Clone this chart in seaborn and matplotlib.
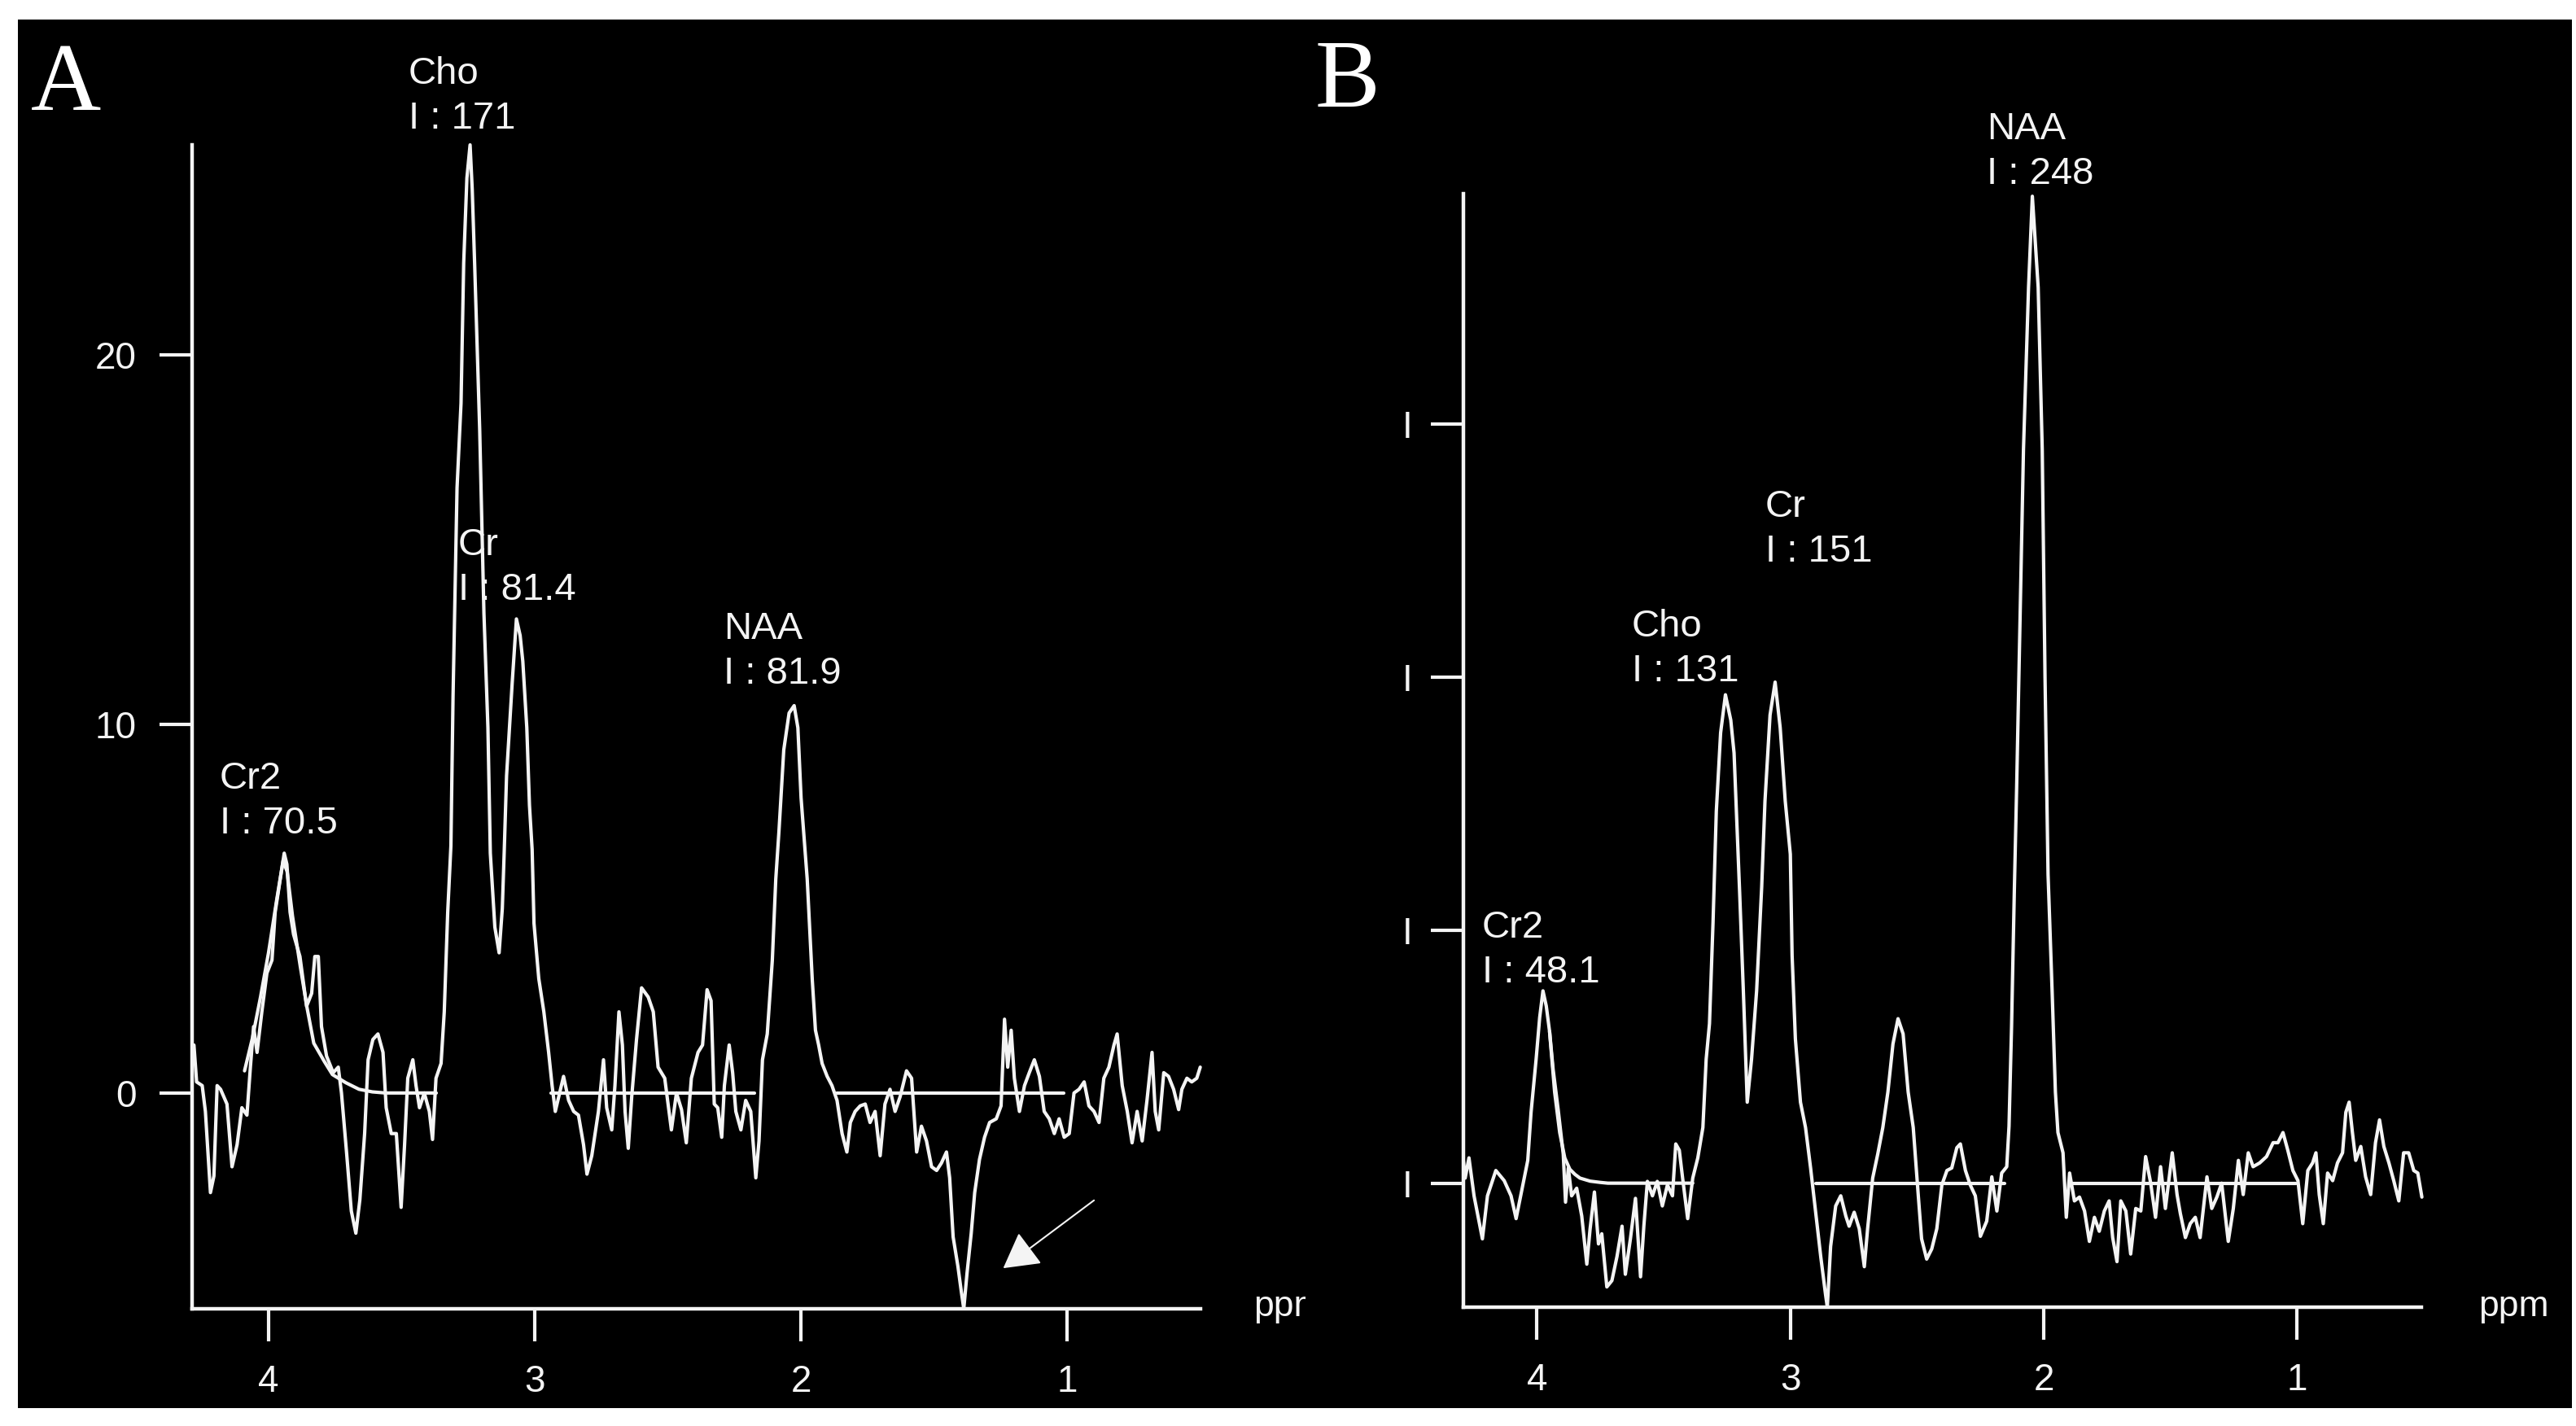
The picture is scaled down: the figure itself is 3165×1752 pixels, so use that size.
import matplotlib
matplotlib.use("Agg")  # no display
import matplotlib.pyplot as plt
import seaborn as sns
import pandas as pd
from matplotlib.patches import Rectangle
from matplotlib.transforms import Bbox, TransformedBbox

W, H = 3165, 1752
LINE = "#F4F4F4"

# ---- panel A: spectrum (ppm, signal) ----
A_PPM = [4.28, 4.27, 4.249, 4.237, 4.218, 4.205, 4.193, 4.180, 4.156, 4.137, 4.118, 4.100,
         4.081, 4.068, 4.056, 4.043, 4.025, 4.006, 3.987, 3.975, 3.956, 3.941, 3.931, 3.919,
         3.906, 3.882, 3.857, 3.838, 3.826, 3.813, 3.801, 3.782, 3.757, 3.738, 3.726, 3.707,
         3.689, 3.672, 3.657, 3.639, 3.626, 3.608, 3.589, 3.570, 3.558, 3.539, 3.520, 3.502,
         3.489, 3.477, 3.458, 3.446, 3.433, 3.415, 3.396, 3.384, 3.371, 3.352, 3.340, 3.327,
         3.315, 3.307, 3.292, 3.277, 3.267, 3.255, 3.243, 3.235, 3.226, 3.207, 3.191, 3.176,
         3.167, 3.150, 3.134, 3.122, 3.115, 3.106, 3.085, 3.069, 3.055, 3.045, 3.030, 3.020,
         3.010, 3.003, 2.985, 2.966, 2.948, 2.935, 2.923, 2.910, 2.892, 2.873, 2.854, 2.836,
         2.817, 2.804, 2.786, 2.761, 2.742, 2.730, 2.711, 2.699, 2.684, 2.671, 2.661, 2.649,
         2.636, 2.618, 2.599, 2.574, 2.555, 2.537, 2.512, 2.487, 2.468, 2.449, 2.431, 2.412,
         2.387, 2.370, 2.353, 2.338, 2.326, 2.313, 2.298, 2.288, 2.270, 2.257, 2.245, 2.226,
         2.208, 2.189, 2.170, 2.158, 2.145, 2.127, 2.108, 2.095, 2.083, 2.065, 2.045, 2.026,
         2.012, 2.000, 1.977, 1.958, 1.946, 1.934, 1.921, 1.902, 1.884, 1.865, 1.846, 1.828,
         1.815, 1.797, 1.778, 1.759, 1.741, 1.722, 1.703, 1.685, 1.666, 1.647, 1.628, 1.604,
         1.585, 1.566, 1.548, 1.529, 1.510, 1.491, 1.473, 1.454, 1.442, 1.429, 1.411, 1.398,
         1.389, 1.377, 1.361, 1.348, 1.330, 1.311, 1.292, 1.267, 1.249, 1.236, 1.224, 1.211,
         1.199, 1.180, 1.161, 1.143, 1.124, 1.105, 1.087, 1.068, 1.049, 1.031, 1.012, 0.993,
         0.975, 0.956, 0.937, 0.919, 0.900, 0.881, 0.863, 0.844, 0.825, 0.813, 0.794, 0.775,
         0.757, 0.738, 0.719, 0.701, 0.682, 0.670, 0.657, 0.638, 0.620, 0.601, 0.582, 0.570,
         0.551, 0.533, 0.514, 0.501]
A_SIG = [1.3, 0.3, 0.2, -0.5, -2.7, -2.25, 0.2, 0.1, -0.3, -2.0, -1.4, -0.4,
         -0.6, 0.7, 1.8, 1.1, 2.2, 3.25, 3.6, 4.9, 5.8, 6.5, 6.2, 4.9,
         4.3, 3.7, 2.35, 2.7, 3.7, 3.7, 1.8, 1.0, 0.55, 0.7, 0.0, -1.6,
         -3.2, -3.8, -2.9, -1.1, 0.9, 1.45, 1.6, 1.1, -0.4, -1.1, -1.1, -3.1,
         -1.4, 0.4, 0.9, 0.2, -0.4, 0.0, -0.5, -1.26, 0.4, 0.8, 2.2, 4.9,
         6.7, 10.75, 16.4, 18.7, 22.5, 24.8, 25.7, 24.5, 22.5, 18.0, 13.0, 9.9,
         6.5, 4.5, 3.8, 5.0, 6.5, 8.6, 11.1, 12.85, 12.4, 11.7, 9.9, 7.8,
         6.6, 4.6, 3.1, 2.2, 1.1, 0.2, -0.5, -0.1, 0.45, -0.2, -0.5, -0.6,
         -1.4, -2.2, -1.7, -0.5, 0.9, -0.4, -1.0, 0.2, 2.2, 1.3, -0.5, -1.5,
         -0.1, 1.45, 2.85, 2.6, 2.2, 0.7, 0.4, -1.0, 0.0, -0.45, -1.35, 0.4,
         1.1, 1.3, 2.8, 2.5, -0.3, -0.4, -1.2, 0.2, 1.3, 0.55, -0.5, -1.0,
         -0.2, -0.5, -2.3, -1.3, 0.9, 1.6, 3.6, 5.8, 7.1, 9.3, 10.3, 10.5,
         9.9, 8.0, 5.8, 3.07, 1.7, 1.3, 0.8, 0.45, 0.2, -0.2, -1.1, -1.6,
         -0.8, -0.5, -0.35, -0.3, -0.8, -0.5, -1.7, -0.3, 0.1, -0.5, -0.1, 0.6,
         0.4, -1.6, -0.9, -1.3, -2.0, -2.1, -1.9, -1.6, -2.3, -3.9, -4.7, -5.4,
         -5.85, -4.9, -3.8, -2.7, -1.8, -1.2, -0.8, -0.7, -0.35, 2.0, 0.7, 1.7,
         0.4, -0.5, 0.2, 0.55, 0.9, 0.45, -0.5, -0.7, -1.1, -0.7, -1.2, -1.1,
         0.0, 0.1, 0.3, -0.35, -0.5, -0.8, 0.4, 0.7, 1.3, 1.6, 0.2, -0.5,
         -1.35, -0.5, -1.3, -0.2, 1.1, -0.5, -1.0, 0.55, 0.45, 0.1, -0.45, 0.1,
         0.4, 0.3, 0.4, 0.7]

# fitted baseline / model of panel A, three pieces
A_FIT_SEG = [1] * 18 + [2, 2] + [3, 3]
A_FIT_PPM = [4.09, 4.06, 4.03, 4.00, 3.97, 3.945, 3.93, 3.91, 3.88, 3.855, 3.83, 3.79,
             3.76, 3.71, 3.66, 3.61, 3.56, 3.37,
             2.94, 2.175,
             1.865, 1.012]
A_FIT_SIG = [0.6, 1.5, 2.6, 3.8, 5.2, 6.3, 6.0, 4.8, 3.4, 2.3, 1.35, 0.85,
             0.5, 0.28, 0.1, 0.03, 0.0, 0.0,
             0.0, 0.0,
             0.0, 0.0]

# ---- panel B ----
B_PPM = [4.29, 4.283, 4.268, 4.248, 4.215, 4.195, 4.162, 4.129, 4.102, 4.082, 4.056, 4.036,
         4.023, 4.003, 3.989, 3.976, 3.963, 3.950, 3.936, 3.916, 3.896, 3.887, 3.876, 3.863,
         3.843, 3.823, 3.803, 3.790, 3.773, 3.757, 3.744, 3.724, 3.704, 3.684, 3.664, 3.651,
         3.631, 3.611, 3.591, 3.578, 3.564, 3.544, 3.525, 3.505, 3.485, 3.465, 3.452, 3.438,
         3.425, 3.405, 3.385, 3.365, 3.345, 3.332, 3.319, 3.305, 3.292, 3.275, 3.256, 3.235,
         3.222, 3.200, 3.185, 3.170, 3.153, 3.133, 3.113, 3.100, 3.080, 3.060, 3.040, 3.020,
         3.000, 2.993, 2.980, 2.960, 2.940, 2.920, 2.900, 2.880, 2.861, 2.854, 2.841, 2.821,
         2.801, 2.781, 2.768, 2.748, 2.728, 2.708, 2.695, 2.675, 2.655, 2.635, 2.615, 2.595,
         2.575, 2.555, 2.535, 2.515, 2.495, 2.482, 2.462, 2.442, 2.422, 2.402, 2.382, 2.363,
         2.343, 2.329, 2.309, 2.290, 2.270, 2.250, 2.225, 2.205, 2.185, 2.166, 2.146, 2.137,
         2.127, 2.116, 2.107, 2.080, 2.060, 2.045, 2.022, 2.006, 1.995, 1.983, 1.967, 1.954,
         1.944, 1.924, 1.911, 1.898, 1.879, 1.859, 1.839, 1.820, 1.800, 1.781, 1.761, 1.742,
         1.728, 1.711, 1.696, 1.676, 1.657, 1.637, 1.617, 1.598, 1.578, 1.559, 1.539, 1.520,
         1.493, 1.474, 1.461, 1.441, 1.422, 1.402, 1.383, 1.356, 1.337, 1.317, 1.298, 1.272,
         1.252, 1.232, 1.213, 1.193, 1.174, 1.148, 1.121, 1.095, 1.076, 1.056, 1.037, 1.017,
         0.997, 0.978, 0.958, 0.939, 0.926, 0.913, 0.897, 0.880, 0.860, 0.841, 0.821, 0.808,
         0.795, 0.782, 0.769, 0.749, 0.730, 0.710, 0.691, 0.675, 0.658, 0.638, 0.619, 0.599,
         0.580, 0.560, 0.540, 0.524, 0.508]
B_SIG = [0.9, 0.2, 1.0, -0.5, -2.2, -0.5, 0.5, 0.1, -0.5, -1.4, -0.1, 0.9,
         2.8, 4.9, 6.55, 7.6, 7.0, 6.0, 4.5, 2.9, 1.15, -0.75, 0.6, -0.5,
         -0.2, -1.3, -3.2, -1.8, -0.35, -2.4, -2.0, -4.1, -3.85, -2.9, -1.7, -3.6,
         -2.2, -0.6, -3.7, -1.7, 0.07, -0.5, 0.07, -0.9, -0.07, -0.5, 1.55, 1.3,
         0.2, -1.4, 0.2, 1.0, 2.2, 4.9, 6.3, 10.3, 14.7, 17.8, 19.3, 18.3,
         17.0, 11.5, 7.5, 3.2, 4.9, 7.6, 11.7, 15.1, 18.5, 19.8, 18.0, 15.1,
         13.0, 9.0, 5.7, 3.2, 2.2, 0.6, -1.15, -2.9, -4.4, -4.9, -2.5, -0.9,
         -0.5, -1.3, -1.7, -1.15, -1.8, -3.3, -1.8, 0.2, 1.15, 2.2, 3.6, 5.5,
         6.5, 5.9, 3.6, 2.2, -0.5, -2.2, -3.0, -2.6, -1.8, -0.07, 0.5, 0.6,
         1.4, 1.55, 0.5, -0.07, -0.5, -2.1, -1.5, 0.25, -1.1, 0.4, 0.65, 2.25,
         6.2, 11.6, 15.6, 29.0, 35.4, 39.0, 35.4, 29.0, 20.0, 12.2, 7.6, 3.6,
         2.0, 1.2, -1.35, 0.4, -0.7, -0.55, -1.1, -2.3, -1.35, -1.9, -1.1, -0.7,
         -2.15, -3.1, -0.7, -1.1, -2.8, -1.0, -1.1, 1.05, 0.0, -1.35, 0.65, -1.0,
         1.2, -0.45, -1.2, -2.15, -1.6, -1.35, -2.15, 0.25, -1.0, -0.55, 0.0, -2.3,
         -1.0, 0.9, -0.45, 1.2, 0.65, 0.8, 1.05, 1.6, 1.6, 2.0, 1.3, 0.5,
         0.1, -1.6, 0.5, 0.8, 1.2, -0.45, -1.6, 0.4, 0.1, 0.8, 1.2, 2.8,
         3.2, 2.0, 0.9, 1.45, 0.25, -0.45, 1.6, 2.5, 1.45, 0.8, 0.1, -0.7,
         1.2, 1.2, 0.5, 0.4, -0.55]

B_FIT_SEG = [1] * 11 + [2, 2] + [3, 3]
B_FIT_PPM = [3.95, 3.93, 3.91, 3.89, 3.87, 3.85, 3.83, 3.79, 3.75, 3.72, 3.385,
             2.90, 2.153,
             1.892, 1.004]
B_FIT_SIG = [6.0, 3.6, 2.0, 1.0, 0.55, 0.35, 0.2, 0.08, 0.03, 0.0, 0.0,
             0.0, 0.0,
             0.0, 0.0]

# peak annotations
A_PEAKS = ["Cho", "Cr", "NAA", "Cr2"]
A_AREAS = ["171", "81.4", "81.9", "70.5"]
B_PEAKS = ["NAA", "Cr", "Cho", "Cr2"]
B_AREAS = ["248", "151", "131", "48.1"]

PPM_TICKS = [4, 3, 2, 1]
A_YTICKS = [0, 10, 20]
B_YTICKS = [0, 10, 20, 30]
B_YTICKLABELS = ["I", "I", "I", "I"]

# where things sit on the page (pixels from top-left)
A_LABEL_POS = [(502, 103), (563, 682), (889, 785), (270, 969)]
B_LABEL_POS = [(2441, 171), (2169, 635), (2005, 782), (1821, 1152)]
LINE_GAP = 55


def fx(px):
    return px / W


def fy(py):
    return 1 - py / H


def draw_panel(ax, ppm, sig, fit_seg, fit_ppm, fit_sig, xlim, ylim, yticks, yticklabels, ytick_pad):
    sns.lineplot(x=ppm, y=sig, ax=ax, sort=False, estimator=None, color=LINE, lw=3.0)
    fit = pd.DataFrame({"ppm": fit_ppm, "sig": fit_sig, "seg": fit_seg})
    sns.lineplot(data=fit, x="ppm", y="sig", units="seg", estimator=None, sort=False,
                 color=LINE, lw=3.0, ax=ax)
    for ln in ax.lines:
        ln.set_clip_on(False)
    ax.set_xlim(*xlim)
    ax.set_ylim(*ylim)
    ax.set_xlabel("")
    ax.set_ylabel("")
    ax.set_facecolor("none")
    ax.grid(False)
    for side in ["top", "right"]:
        ax.spines[side].set_visible(False)
    for side in ["left", "bottom"]:
        ax.spines[side].set_color(LINE)
        ax.spines[side].set_linewidth(3.2)
    ax.set_xticks(PPM_TICKS)
    ax.set_xticklabels([str(t) for t in PPM_TICKS])
    ax.set_yticks(yticks)
    ax.set_yticklabels(yticklabels)
    ax.tick_params(axis="x", direction="out", length=29, width=3.0, pad=20,
                   colors=LINE, labelsize=33, bottom=True)
    ax.tick_params(axis="y", direction="out", length=29, width=3.0, pad=ytick_pad,
                   colors=LINE, labelsize=33, left=True)


sns.set_theme(style="dark")
plt.rcParams["font.family"] = ["Liberation Sans", "DejaVu Sans"]

fig = plt.figure(figsize=(W / 100, H / 100), dpi=100, facecolor="white")
fig.patches.append(Rectangle((fx(22), fy(1730)), fx(3160) - fx(22), fy(24) - fy(1730),
                             transform=fig.transFigure, facecolor="black",
                             edgecolor="none", zorder=-10))

ax_a = fig.add_axes([fx(236), fy(1608), fx(1475) - fx(236), fy(178) - fy(1608)])
ax_b = fig.add_axes([fx(1798), fy(1606), fx(2975) - fx(1798), fy(238) - fy(1606)])

draw_panel(ax_a, A_PPM, A_SIG, A_FIT_SEG, A_FIT_PPM, A_FIT_SIG,
           (4.287, 0.50), (-5.85, 25.7), A_YTICKS, [str(t) for t in A_YTICKS], 20)
draw_panel(ax_b, B_PPM, B_SIG, B_FIT_SEG, B_FIT_PPM, B_FIT_SIG,
           (4.29, 0.51), (-4.9, 39.1), B_YTICKS, B_YTICKLABELS, 16)

# arrow pointing at the negative dip in A
ax_a.annotate("", xy=(1.241, -4.75), xytext=(0.900, -2.91),
              arrowprops=dict(arrowstyle="-|>,head_length=0.68,head_width=0.38",
                              color=LINE, lw=1.5, mutation_scale=40,
                              shrinkA=0, shrinkB=0))

# peak names and integrals
for names, areas, pos in [(A_PEAKS, A_AREAS, A_LABEL_POS), (B_PEAKS, B_AREAS, B_LABEL_POS)]:
    for name, area, (x, y) in zip(names, areas, pos):
        fig.text(fx(x), fy(y), name, color=LINE, fontsize=34, va="baseline", ha="left")
        fig.text(fx(x), fy(y + LINE_GAP), "I : " + area, color=LINE, fontsize=34,
                 va="baseline", ha="left")

# axis unit labels; the one in A is cut off by panel B
ppm_a = fig.text(fx(1540), fy(1617), "ppm", color=LINE, fontsize=32, va="baseline")
ppm_a.set_clip_box(TransformedBbox(Bbox.from_extents(0, 0, fx(1604), 1), fig.transFigure))
ppm_a.set_clip_on(True)
fig.text(fx(3045), fy(1617), "ppm", color=LINE, fontsize=32, va="baseline")

# panel letters
fig.text(fx(38), fy(135), "A", color="white", fontsize=86, family="Liberation Serif",
         va="baseline")
fig.text(fx(1616), fy(131), "B", color="white", fontsize=86, family="Liberation Serif",
         va="baseline")

fig.savefig("out.png", dpi=100, facecolor="white")
plt.close(fig)
